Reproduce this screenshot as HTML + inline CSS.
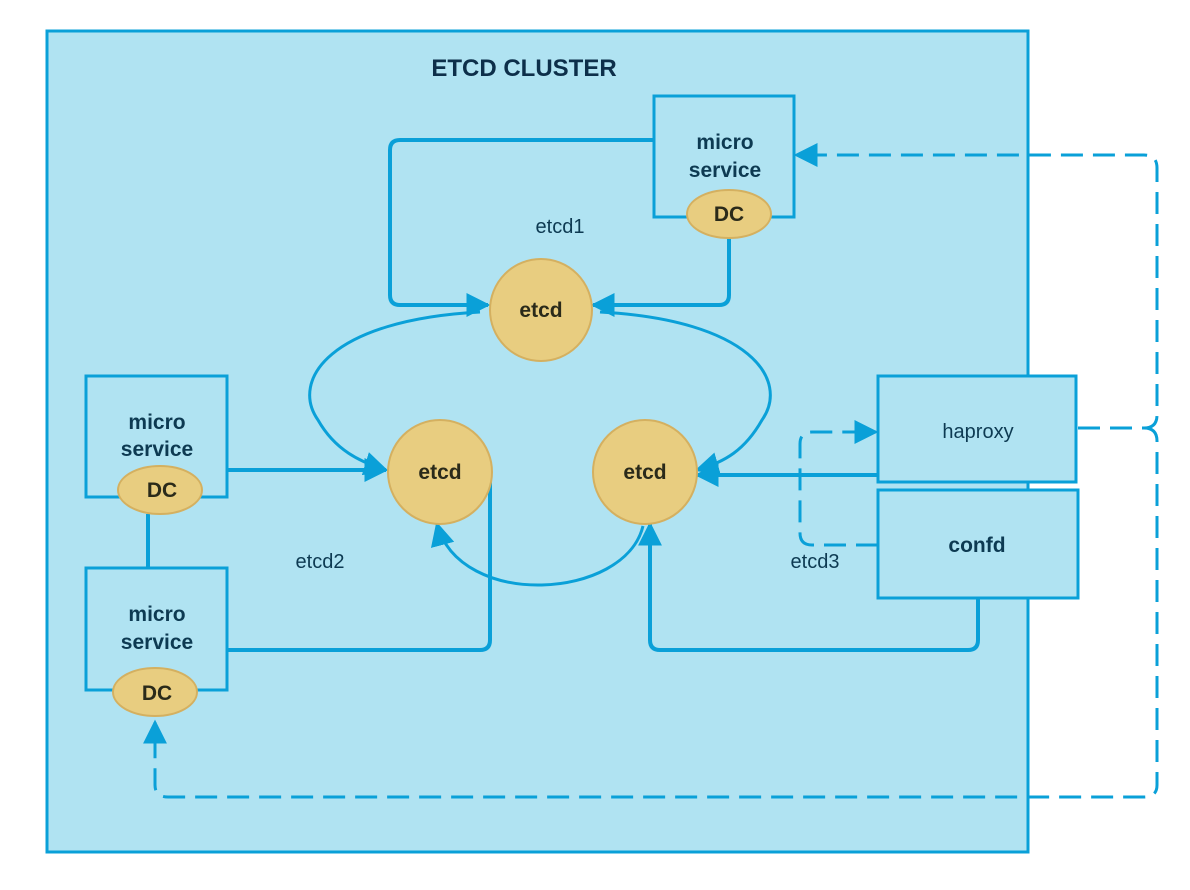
<!DOCTYPE html>
<html><head><meta charset="utf-8"><style>
html,body{margin:0;padding:0;background:#fff;}
svg{display:block;font-family:"Liberation Sans",Arial,sans-serif;}
</style></head><body>
<svg width="1190" height="890" viewBox="0 0 1190 890">
<defs>
<marker id="b" viewBox="0 0 10 10" refX="9" refY="5" markerWidth="24" markerHeight="24" orient="auto" markerUnits="userSpaceOnUse"><path d="M0,0 L10,5 L0,10 z" fill="#0aa0d8"/></marker>
</defs>
<rect x="47" y="31" width="981" height="821" fill="#b0e3f2" stroke="#0aa0d8" stroke-width="3"/>
<text x="524" y="76" text-anchor="middle" font-size="24" font-weight="bold" fill="#0d2f4a">ETCD CLUSTER</text>

<g fill="none" stroke="#0aa0d8" stroke-width="4">
<path d="M654,140 H400 Q390,140 390,150 V295 Q390,305 400,305 H488" marker-end="url(#b)"/>
<path d="M729,238 V295 Q729,305 719,305 H593" marker-end="url(#b)"/>
<path d="M228,470 H386" marker-end="url(#b)"/>
<path d="M228,650 H480 Q490,650 490,640 V480"/>
<path d="M878,475 H697" marker-end="url(#b)"/>
<path d="M978,598 V640 Q978,650 968,650 H660 Q650,650 650,640 V524" marker-end="url(#b)"/>
<path d="M148,514 V568"/>
</g>
<g fill="none" stroke="#0aa0d8" stroke-width="3">
<path d="M480,312 C330,320 290,380 318,420 C335,450 360,462 386,470" marker-end="url(#b)"/>
<path d="M600,312 C750,320 790,380 762,420 C745,450 725,462 697,470" marker-end="url(#b)"/>
<path d="M643,526 C625,600 460,610 437,524" marker-end="url(#b)"/>
</g>
<g fill="none" stroke="#0aa0d8" stroke-width="3" stroke-dasharray="22,10">
<path d="M878,545 H812 Q800,545 800,533 V444 Q800,432 812,432 H876" marker-end="url(#b)"/>
<path d="M1078,428 H1144 Q1157,428 1157,415 V168 Q1157,155 1144,155 H796" marker-end="url(#b)"/>
<path d="M1144,428 Q1157,428 1157,441 V785 Q1157,797 1144,797 H168 Q155,797 155,785 V722" marker-end="url(#b)"/>
</g>

<g fill="#b0e3f2" stroke="#0aa0d8" stroke-width="3">
<rect x="654" y="96" width="140" height="121"/>
<rect x="86" y="376" width="141" height="121"/>
<rect x="86" y="568" width="141" height="122"/>
<rect x="878" y="376" width="198" height="106"/>
<rect x="878" y="490" width="200" height="108"/>
</g>
<g fill="#e8cd80" stroke="#d4b060" stroke-width="2">
<circle cx="541" cy="310" r="51"/>
<circle cx="440" cy="472" r="52"/>
<circle cx="645" cy="472" r="52"/>
<ellipse cx="729" cy="214" rx="42" ry="24"/>
<ellipse cx="160" cy="490" rx="42" ry="24"/>
<ellipse cx="155" cy="692" rx="42" ry="24"/>
</g>
<g font-weight="bold" font-size="21" fill="#0d3a52" text-anchor="middle">
<text x="725" y="149">micro</text><text x="725" y="177">service</text>
<text x="157" y="429">micro</text><text x="157" y="456">service</text>
<text x="157" y="621">micro</text><text x="157" y="649">service</text>
<text x="977" y="552">confd</text>
</g>
<g font-weight="bold" font-size="21" fill="#2a2a1a" text-anchor="middle">
<text x="541" y="317">etcd</text><text x="440" y="479">etcd</text><text x="645" y="479">etcd</text>
<text x="729" y="221">DC</text><text x="162" y="497">DC</text><text x="157" y="700">DC</text>
</g>
<g font-size="20" fill="#0d3a52" text-anchor="middle">
<text x="560" y="233">etcd1</text><text x="320" y="568">etcd2</text><text x="815" y="568">etcd3</text>
<text x="978" y="438">haproxy</text>
</g>
</svg>
</body></html>
